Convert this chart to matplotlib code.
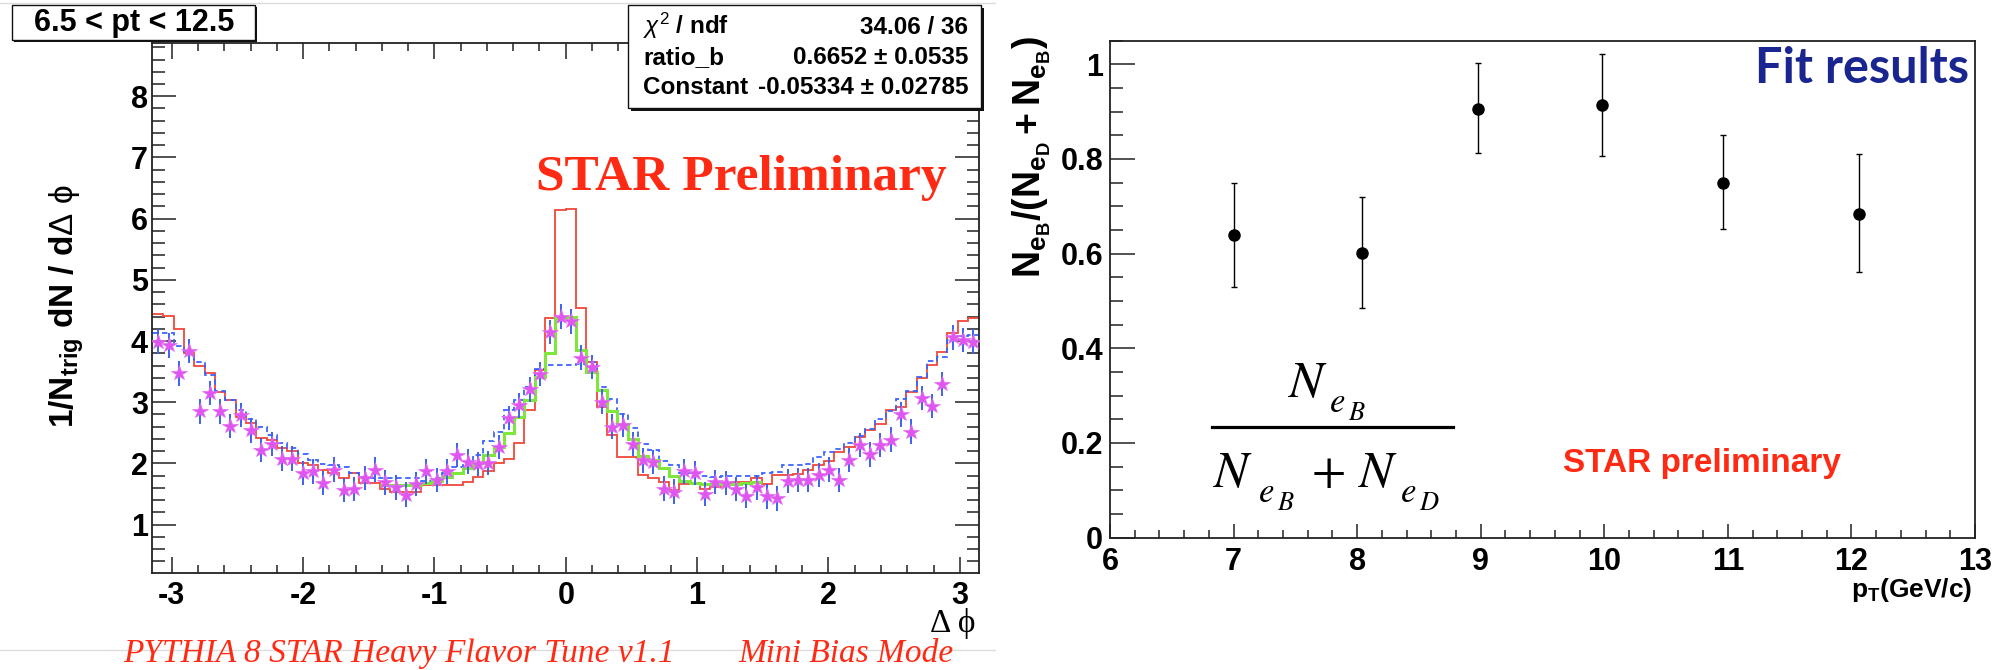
import numpy as np
import matplotlib
matplotlib.use("Agg")
import matplotlib.pyplot as plt
from matplotlib.patches import Rectangle
from matplotlib.lines import Line2D
from matplotlib.ticker import MultipleLocator, FixedLocator

# ---------------------------------------------------------------- data
# Delta-phi correlation, 6.5 < pT < 12.5, 80 bins over [-pi, pi]
n_bins = 80
dphi_edges = np.linspace(-np.pi, np.pi, n_bins + 1)
dphi_centers = 0.5 * (dphi_edges[:-1] + dphi_edges[1:])

data_points = [
    3.99, 3.93, 3.47, 3.84, 2.85, 3.15, 2.85, 2.61, 2.79, 2.54,
    2.22, 2.32, 2.08, 2.08, 1.84, 1.87, 1.68, 1.90, 1.57, 1.58,
    1.76, 1.90, 1.69, 1.61, 1.49, 1.66, 1.87, 1.73, 1.87, 2.14,
    2.03, 1.99, 2.01, 2.27, 2.74, 2.95, 3.21, 3.46, 4.15, 4.40,
    4.32, 3.73, 3.58, 3.01, 2.60, 2.63, 2.32, 2.05, 2.02, 1.59,
    1.54, 1.87, 1.84, 1.50, 1.70, 1.68, 1.58, 1.47, 1.61, 1.46,
    1.43, 1.71, 1.73, 1.73, 1.81, 1.90, 1.73, 2.06, 2.30, 2.15,
    2.30, 2.39, 2.80, 2.52, 3.07, 2.94, 3.30, 4.06, 4.02, 3.99,
]
data_err = 0.2

# PYTHIA B-decay template (red)
b_template = [
    4.44, 4.41, 4.19, 3.81, 3.60, 3.47, 3.16, 3.04, 2.76, 2.66,
    2.41, 2.38, 2.25, 2.21, 2.00, 1.97, 1.89, 1.84, 1.76, 1.84,
    1.68, 1.68, 1.59, 1.54, 1.54, 1.54, 1.65, 1.65, 1.65, 1.65,
    1.70, 1.78, 1.87, 2.00, 2.07, 2.34, 2.88, 3.52, 4.37, 6.14,
    6.16, 4.54, 3.66, 2.93, 2.47, 2.11, 2.11, 1.81, 1.76, 1.69,
    1.57, 1.66, 1.66, 1.58, 1.61, 1.68, 1.70, 1.69, 1.76, 1.66,
    1.81, 1.81, 1.82, 1.90, 1.97, 2.04, 2.18, 2.27, 2.44, 2.54,
    2.64, 2.88, 2.92, 3.17, 3.39, 3.61, 3.82, 4.13, 4.33, 4.37,
]

# PYTHIA D-decay template (blue dashed)
d_template = [
    4.13, 4.13, 3.92, 3.80, 3.65, 3.45, 3.19, 3.04, 2.87, 2.72,
    2.60, 2.47, 2.33, 2.25, 2.16, 2.06, 1.99, 1.98, 1.95, 1.84,
    1.78, 1.76, 1.76, 1.76, 1.76, 1.76, 1.72, 1.76, 1.84, 1.95,
    2.00, 2.14, 2.36, 2.52, 2.87, 3.04, 3.25, 3.54, 3.61, 3.61,
    3.61, 3.62, 3.66, 3.25, 3.05, 2.81, 2.58, 2.32, 2.22, 2.04,
    1.97, 1.84, 1.84, 1.79, 1.78, 1.79, 1.79, 1.80, 1.80, 1.84,
    1.86, 1.97, 1.97, 1.99, 2.11, 2.18, 2.23, 2.33, 2.45, 2.56,
    2.73, 2.85, 3.06, 3.18, 3.41, 3.67, 3.74, 4.02, 4.08, 4.10,
]

# combined fit (green), bins 22..58
fit_first_bin = 22
fit_curve = [
    1.65, 1.65, 1.65, 1.65, 1.68, 1.71, 1.78, 1.84, 1.92, 2.00,
    2.14, 2.27, 2.49, 2.76, 3.04, 3.42, 3.80, 4.38, 4.40, 3.85,
    3.50, 3.20, 2.85, 2.65, 2.40, 2.12, 2.06, 1.92, 1.80, 1.72,
    1.68, 1.66, 1.66, 1.66, 1.66, 1.68, 1.70,
]

# B fraction versus pT
pt_values = [7.00, 8.04, 8.98, 9.98, 10.96, 12.06]
b_fraction = [0.639, 0.601, 0.906, 0.913, 0.750, 0.684]
b_frac_err_low = [0.109, 0.116, 0.094, 0.106, 0.099, 0.124]
b_frac_err_high = [0.111, 0.119, 0.097, 0.108, 0.101, 0.126]

left_xticks = [-3, -2, -1, 0, 1, 2, 3]
left_yticks = [1, 2, 3, 4, 5, 6, 7, 8]
right_xticks = [6, 7, 8, 9, 10, 11, 12, 13]
right_yticks = [0, 0.2, 0.4, 0.6, 0.8, 1.0]
right_yticklabels = ["0", "0.2", "0.4", "0.6", "0.8", "1"]

# ---------------------------------------------------------------- style
W, H, DPI = 2003, 670, 100
plt.rcParams["font.family"] = ["Liberation Sans", "DejaVu Sans"]
plt.rcParams["axes.unicode_minus"] = False
plt.rcParams["mathtext.fontset"] = "custom"
plt.rcParams["mathtext.rm"] = "Liberation Sans"
plt.rcParams["mathtext.bf"] = "Liberation Sans:bold"
plt.rcParams["mathtext.it"] = "Liberation Sans:italic"
plt.rcParams["mathtext.sf"] = "Liberation Sans"

fig = plt.figure(figsize=(W / DPI, H / DPI), dpi=DPI)
fig.patch.set_facecolor("white")


def fx(x):
    return x / W


def fy(y):
    return 1 - y / H


def axes_box(x0, y0, x1, y1):
    return [fx(x0), fy(y1), (x1 - x0) / W, (y1 - y0) / H]


RED_TXT = "#ff2a14"
SERIF = ["Liberation Serif", "DejaVu Serif"]

# ---------------------------------------------------------------- left panel
axL = fig.add_axes(axes_box(152, 43, 979, 573))
axL.stairs(b_template, dphi_edges, baseline=None, color="#f0483a", lw=1.3, zorder=2)
axL.stairs(d_template, dphi_edges, baseline=None, color="#3a64ff", lw=1.3,
           linestyle=(0, (3, 2)), zorder=2)
axL.stairs(fit_curve, dphi_edges[fit_first_bin:fit_first_bin + len(fit_curve) + 1],
           baseline=None, color="#7fe63c", lw=2.2, zorder=3)
axL.errorbar(dphi_centers, data_points, yerr=data_err, fmt="none",
             ecolor="#4060f0", elinewidth=1.4, zorder=4)
axL.plot(dphi_centers, data_points, ls="none", marker="*", ms=11.5,
         color="#de55f0", mec="#e36ff2", mew=0.5, zorder=5)

axL.set_xlim(-3.15, 3.146)
axL.set_ylim(0.21, 8.87)
axL.xaxis.set_major_locator(FixedLocator(left_xticks))
axL.yaxis.set_major_locator(FixedLocator(left_yticks))
axL.xaxis.set_minor_locator(MultipleLocator(0.2))
axL.yaxis.set_minor_locator(MultipleLocator(0.2))
axL.tick_params(which="both", direction="in", top=True, right=True,
                width=1.1, color="#222222")
axL.tick_params(axis="y", which="major", length=17, pad=3)
axL.tick_params(axis="y", which="minor", length=9)
axL.tick_params(axis="x", which="major", length=11.5, pad=6)
axL.tick_params(axis="x", which="minor", length=6)
for lab in axL.get_xticklabels() + axL.get_yticklabels():
    lab.set_fontsize(22)
    lab.set_fontweight("bold")
for sp in axL.spines.values():
    sp.set_linewidth(1.3)
    sp.set_color("#222222")

# ---------------------------------------------------------------- right panel
axR = fig.add_axes(axes_box(1110, 40.6, 1975, 537.5))
axR.errorbar(pt_values, b_fraction, yerr=[b_frac_err_low, b_frac_err_high],
             fmt="o", color="black", ms=8, elinewidth=1.0, capsize=2.5,
             capthick=1.0, zorder=3)
axR.set_xlim(6, 13)
axR.set_ylim(0, 1.05)
axR.xaxis.set_major_locator(FixedLocator(right_xticks))
axR.yaxis.set_major_locator(FixedLocator(right_yticks))
axR.set_yticklabels(right_yticklabels)
axR.xaxis.set_minor_locator(MultipleLocator(0.2))
axR.yaxis.set_minor_locator(MultipleLocator(0.05))
axR.tick_params(which="both", direction="in", top=False, right=False,
                width=1.1, color="#222222")
axR.tick_params(axis="y", which="major", length=18, pad=5)
axR.tick_params(axis="y", which="minor", length=9)
axR.tick_params(axis="x", which="major", length=10, pad=7)
axR.tick_params(axis="x", which="minor", length=5.5)
for lab in axR.get_xticklabels() + axR.get_yticklabels():
    lab.set_fontsize(22)
    lab.set_fontweight("bold")
for sp in axR.spines.values():
    sp.set_linewidth(1.3)
    sp.set_color("#222222")

# ---------------------------------------------------------------- pad borders
for yy in (3, 650):
    fig.add_artist(Line2D([fx(0), fx(995)], [fy(yy), fy(yy)], color="#dcdcdc",
                          lw=1.0, transform=fig.transFigure, zorder=0))


def shadow_box(x0, y0, x1, y1, off=3):
    fig.add_artist(Rectangle((fx(x0 + off), fy(y1 + off)), (x1 - x0) / W, (y1 - y0) / H,
                             transform=fig.transFigure, facecolor="#111111",
                             edgecolor="none", zorder=6))
    fig.add_artist(Rectangle((fx(x0), fy(y1)), (x1 - x0) / W, (y1 - y0) / H,
                             transform=fig.transFigure, facecolor="white",
                             edgecolor="#111111", lw=1.0, zorder=7))


# pt range label
shadow_box(12, 5, 255, 40, off=2)
fig.text(fx(134), fy(31), "6.5 < pt < 12.5", ha="center", va="baseline",
         fontsize=22, fontweight="bold", zorder=8)

# fit statistics
shadow_box(628, 5, 981, 108, off=3)
stats_rows = [
    (r"$\chi^{2}$ / ndf", "34.06 / 36", 34),
    ("ratio_b", "0.6652 ± 0.0535", 64),
    ("Constant", "-0.05334 ± 0.02785", 94),
]
for left_txt, right_txt, yb in stats_rows:
    fig.text(fx(643), fy(yb), left_txt, ha="left", va="baseline",
             fontsize=17.5, fontweight="bold", zorder=8)
    fig.text(fx(968), fy(yb), right_txt, ha="right", va="baseline",
             fontsize=17.5, fontweight="bold", zorder=8)

fig.text(fx(536), fy(190), "STAR Preliminary", ha="left", va="baseline",
         fontsize=37, fontweight="bold", color=RED_TXT, family=SERIF, zorder=8)

fig.text(fx(67), fy(306), r"$\mathbf{1/N_{trig}\ dN\ /\ d}\mathrm{\Delta\ \phi}$",
         rotation=90, ha="center", va="center", fontsize=24)

fig.text(fx(975), fy(632), "Δ ϕ", ha="right", va="baseline", fontsize=24,
         family=SERIF)

fig.text(fx(123), fy(662), "PYTHIA 8 STAR Heavy Flavor Tune v1.1", ha="left",
         va="baseline", fontsize=24, style="italic", color=RED_TXT, family=SERIF)
fig.text(fx(954), fy(662), "Mini Bias Mode", ha="right",
         va="baseline", fontsize=24, style="italic", color=RED_TXT, family=SERIF)

# ---------------------------------------------------------------- right panel texts
fig.text(fx(1032), fy(157), r"$\mathbf{N_{e_{B}}/(N_{e_{D}}+N_{e_{B}})}$",
         rotation=90, ha="center", va="center", fontsize=27)

fig.text(fx(1969), fy(83), "Fit results", ha="right", va="baseline",
         fontsize=35, fontweight="bold", color="#1a2690",
         family=["Lato", "Liberation Sans"])

fig.text(fx(1563), fy(472), "STAR preliminary", ha="left", va="baseline",
         fontsize=24, fontweight="bold", color=RED_TXT)

fig.text(fx(1972), fy(597), r"$\mathbf{p_{T}}$(GeV/c)", ha="right", va="baseline",
         fontsize=19, fontweight="bold")

# B fraction definition: N_eB / (N_eB + N_eD), glyph by glyph
MATH_SERIF = ["STIXGeneral", "Liberation Serif", "DejaVu Serif"]
frac_glyphs = [
    # text, x, baseline, size
    ("N", 1288, 397, 37), ("e", 1330, 412, 25), ("B", 1348, 420, 19),
    ("N", 1213, 487, 37), ("e", 1259, 502, 25), ("B", 1277, 510, 19),
    ("N", 1358, 487, 37), ("e", 1401, 502, 25), ("D", 1419, 510, 19),
]
for txt, gx, gy, gs in frac_glyphs:
    fig.text(fx(gx), fy(gy), txt, ha="left", va="baseline", fontsize=gs,
             style="italic", family=MATH_SERIF)
fig.text(fx(1329), fy(486), "+", ha="center", va="baseline", fontsize=36,
         family=MATH_SERIF)
fig.add_artist(Line2D([fx(1212), fx(1453)], [fy(427), fy(427)], color="black",
                      lw=2.3, transform=fig.transFigure))

fig.savefig("out.png", dpi=DPI, facecolor="white")
